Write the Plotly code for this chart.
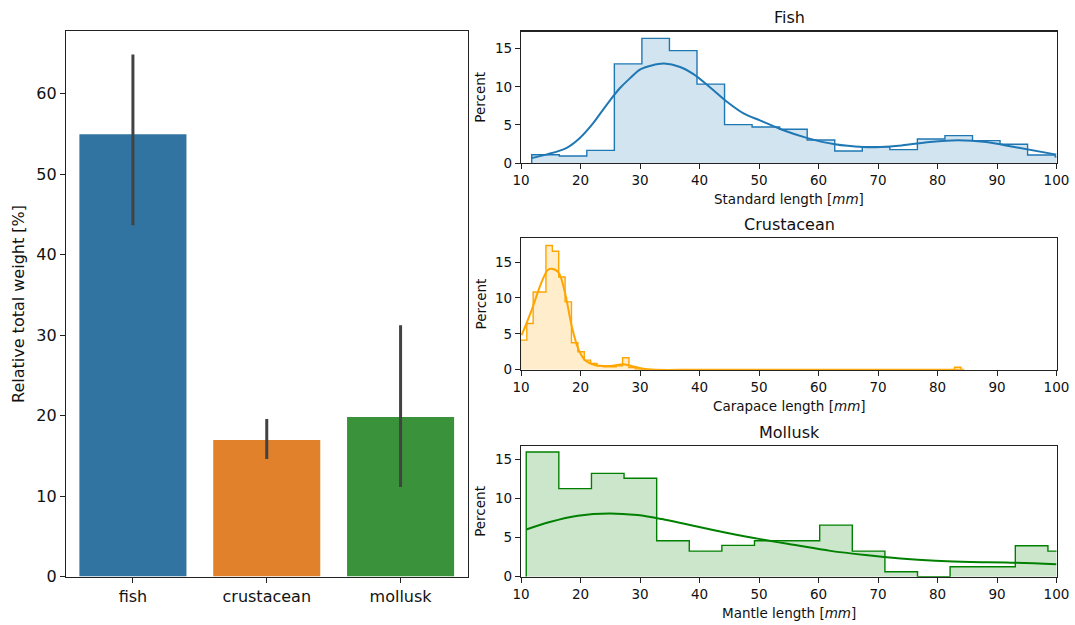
import plotly.graph_objects as go

# ---------------- data ----------------
categories = ["fish", "crustacean", "mollusk"]
weight_pct = [54.97, 16.96, 19.81]
weight_ci_low = [43.66, 14.60, 11.12]
weight_ci_high = [64.87, 19.57, 31.24]
bar_colors = ["#3274a1", "#e1812c", "#3a923a"]

# Fish: standard length histogram (percent)
fish_bin_start = 11.8
fish_bin_width = 4.63
fish_pct = [1.09, 0.91, 1.65, 13.0, 16.35, 14.74, 10.35, 5.04, 4.72, 4.42,
            3.02, 1.57, 2.14, 1.75, 3.15, 3.59, 2.93, 2.45, 1.05, 0.8]
fish_kde_x = [11.8, 14.2, 17.6, 19.85, 22.1, 24.36, 26.6, 28.3, 29.98, 31.96,
              34.04, 36.74, 38.99, 41.8, 44.6, 47.4, 50.25, 53.88, 58.02,
              62.75, 67.48, 70.44, 73.99, 78.72, 83.45, 88.18, 92.91, 100.0]
fish_kde_y = [0.65, 1.1, 1.96, 3.26, 5.2, 7.6, 9.8, 11.1, 12.26, 12.8,
              13.04, 12.6, 11.65, 9.9, 8.04, 6.5, 5.56, 4.37, 3.3,
              2.45, 2.1, 2.1, 2.3, 2.75, 2.97, 2.75, 2.1, 1.1]

# Crustacean: carapace length histogram (percent)
crus_bin_start = 9.9
crus_bin_width = 1.073
crus_pct = [4.12, 6.44, 10.83, 10.83, 17.3, 16.5, 12.9, 9.44, 3.75, 2.5,
            1.34, 0.88, 0.56, 0.42, 0.42, 0.56, 1.67, 0.3, 0.1, 0.0,
            0.0, 0.0, 0.0, 0.0, 0.0, 0.0, 0.0, 0.0, 0.0, 0.0,
            0.0, 0.0, 0.0, 0.0, 0.0, 0.0, 0.0, 0.0, 0.0, 0.0,
            0.0, 0.0, 0.0, 0.0, 0.0, 0.0, 0.0, 0.0, 0.0, 0.0,
            0.0, 0.0, 0.0, 0.0, 0.0, 0.0, 0.0, 0.0, 0.0, 0.0,
            0.0, 0.0, 0.0, 0.0, 0.0, 0.0, 0.0, 0.0, 0.35]
crus_kde_x = [10.11, 11.79, 13.46, 14.5, 15.14, 16.26, 17.37, 18.49, 19.6,
              20.73, 22.4, 24.64, 27.43, 29.1, 31.34, 40.0, 60.0, 84.5]
crus_kde_y = [4.8, 8.3, 12.2, 13.9, 14.07, 13.6, 10.8, 6.2, 2.96,
              1.34, 0.65, 0.5, 0.74, 0.4, 0.05, 0.0, 0.0, 0.0]

# Mollusk: mantle length histogram (percent)
moll_bin_start = 10.88
moll_bin_width = 5.48
moll_pct = [15.94, 11.26, 13.2, 12.58, 4.59, 3.27, 4.0, 4.59, 4.59, 6.59,
            3.27, 0.64, 0.0, 1.27, 1.27, 3.95, 3.27]
moll_kde_x = [10.88, 14.83, 19.55, 24.85, 29.56, 33.69, 38.4, 44.3, 50.19,
              56.1, 62.0, 67.87, 73.76, 79.65, 85.55, 91.44, 100.0]
moll_kde_y = [6.04, 7.0, 7.8, 8.09, 7.87, 7.36, 6.6, 5.66, 4.8,
              4.04, 3.3, 2.77, 2.34, 2.04, 1.87, 1.83, 1.6]

panel_titles = ["Fish", "Crustacean", "Mollusk"]
panel_xlabels = ["Standard length [<i>mm</i>]", "Carapace length [<i>mm</i>]",
                 "Mantle length [<i>mm</i>]"]
hist_line_colors = ["#1f77b4", "#ffa500", "#008000"]
hist_fill_colors = ["rgba(31,119,180,0.2)", "rgba(255,165,0,0.2)", "rgba(0,128,0,0.2)"]

# ---------------- figure ----------------
W, H = 1075, 625
FONT = "DejaVu Sans"
INK = "#111111"

def px(x):
    return x / W

def py(y):
    return 1 - y / H

fig = go.Figure()

# Bar chart
fig.add_trace(go.Bar(
    x=categories, y=weight_pct, marker=dict(color=bar_colors, line=dict(width=0)),
    width=0.8,
    error_y=dict(type="data", symmetric=False,
                 array=[h - v for h, v in zip(weight_ci_high, weight_pct)],
                 arrayminus=[v - l for l, v in zip(weight_ci_low, weight_pct)],
                 color="#424242", thickness=3, width=0),
    xaxis="x", yaxis="y", showlegend=False, hoverinfo="skip"))


def step_xy(start, width, heights):
    xs = [start]
    ys = [0.0]
    for i, h in enumerate(heights):
        xs.append(start + i * width)
        ys.append(h)
    xs.append(start + len(heights) * width)
    ys.append(heights[-1])
    xs.append(start + len(heights) * width)
    ys.append(0.0)
    return xs, ys

hists = [(fish_bin_start, fish_bin_width, fish_pct, fish_kde_x, fish_kde_y),
         (crus_bin_start, crus_bin_width, crus_pct, crus_kde_x, crus_kde_y),
         (moll_bin_start, moll_bin_width, moll_pct, moll_kde_x, moll_kde_y)]

for i, (st, wd, hp, kx, ky) in enumerate(hists):
    ax = str(i + 2)
    sx, sy = step_xy(st, wd, hp)
    fig.add_trace(go.Scatter(
        x=sx, y=sy, mode="lines", line=dict(shape="hv", color=hist_line_colors[i], width=1.4),
        fill="tozeroy", fillcolor=hist_fill_colors[i], opacity=0.85,
        xaxis="x" + ax, yaxis="y" + ax, showlegend=False, hoverinfo="skip"))
    fig.add_trace(go.Scatter(
        x=kx, y=ky, mode="lines", line=dict(shape="spline", smoothing=1.0,
                                          color=hist_line_colors[i], width=2),
        xaxis="x" + ax, yaxis="y" + ax, showlegend=False, hoverinfo="skip"))

axis_common = dict(showline=True, mirror=True, linecolor="#222222", linewidth=1.1,
                   ticks="outside", ticklen=5, tickwidth=1, tickcolor="#222222",
                   showgrid=False, zeroline=False, automargin=False)

layout = dict(
    width=W, height=H, margin=dict(l=0, r=0, t=0, b=0, pad=0, autoexpand=False),
    paper_bgcolor="white", plot_bgcolor="white",
    font=dict(family=FONT, color=INK),
    xaxis=dict(domain=[px(66), px(467.5)], anchor="y", type="category",
               range=[-0.5, 2.5], tickfont=dict(size=16), **axis_common),
    yaxis=dict(domain=[py(576.5), py(31)], anchor="x", range=[0, 67.8],
               tickvals=[0, 10, 20, 30, 40, 50, 60], tickfont=dict(size=16), **axis_common),
)

ydoms = [(163, 31.5), (369.7, 238.3), (576.7, 446)]
yranges = [[0, 17.25], [0, 18.3], [0, 16.7]]
for i in range(3):
    n = str(i + 2)
    layout["xaxis" + n] = dict(domain=[px(521), px(1056.5)], anchor="y" + n,
                               range=[10, 100], tickvals=[10, 20, 30, 40, 50, 60, 70, 80, 90, 100],
                               tickfont=dict(size=13.5), **axis_common)
    layout["yaxis" + n] = dict(domain=[py(ydoms[i][0]), py(ydoms[i][1])], anchor="x" + n,
                               range=yranges[i], tickvals=[0, 5, 10, 15],
                               tickfont=dict(size=13.5), **axis_common)

fig.update_layout(**layout)

annotations = []
annotations.append(dict(text="Relative total weight [%]", x=px(19), y=py(304), xref="paper",
                        yref="paper", textangle=-90, showarrow=False, xanchor="center",
                        yanchor="middle", font=dict(size=16)))
title_y = [17, 224, 432]
xlabel_y = [199, 406, 613]
for i in range(3):
    annotations.append(dict(text=panel_titles[i], x=px(789), y=py(title_y[i]), xref="paper",
                            yref="paper", showarrow=False, xanchor="center", yanchor="middle",
                            font=dict(size=16)))
    annotations.append(dict(text=panel_xlabels[i], x=px(789), y=py(xlabel_y[i]), xref="paper",
                            yref="paper", showarrow=False, xanchor="center", yanchor="middle",
                            font=dict(size=13.5)))
    yc = (ydoms[i][0] + ydoms[i][1]) / 2
    annotations.append(dict(text="Percent", x=px(480.5), y=py(yc), xref="paper", yref="paper",
                            textangle=-90, showarrow=False, xanchor="center", yanchor="middle",
                            font=dict(size=13.5)))
fig.update_layout(annotations=annotations)

fig.write_html(
    "out.html",
    config={"displayModeBar": False, "staticPlot": True},
    post_script="document.documentElement.style.margin='0';document.body.style.margin='0';"
                "document.body.style.padding='0';document.body.style.overflow='hidden';",
)
